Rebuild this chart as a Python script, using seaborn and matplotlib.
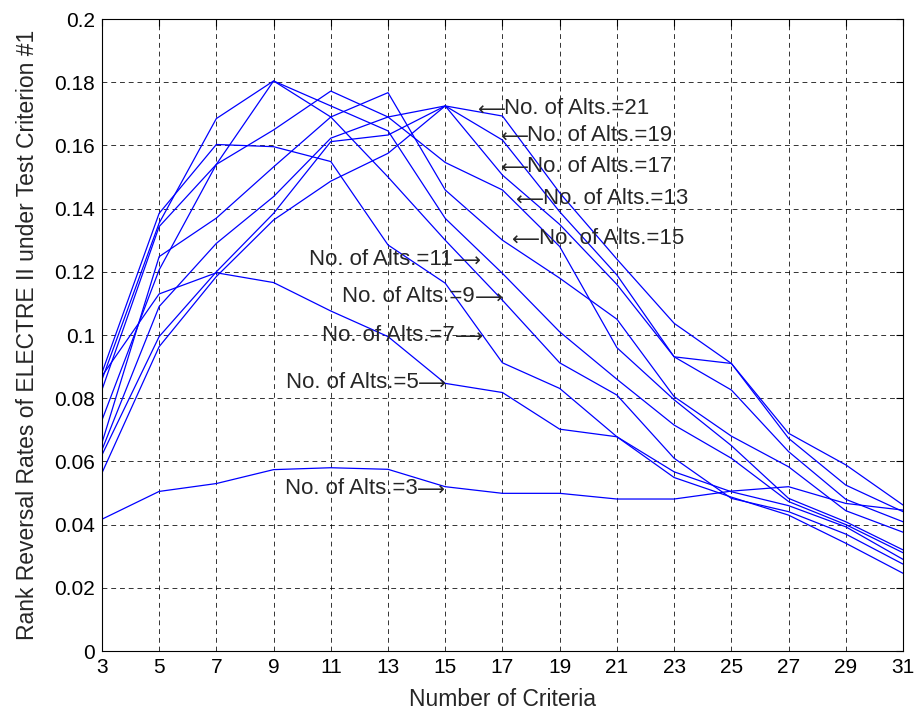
import numpy as np
import pandas as pd
import matplotlib
matplotlib.use("Agg")
import matplotlib.pyplot as plt
import seaborn as sns

# number of criteria (x axis)
criteria = [3, 5, 7, 9, 11, 13, 15, 17, 19, 21, 23, 25, 27, 29, 31]

# rank reversal rates, one list per number of alternatives
alts_3 = [0.0417, 0.0505, 0.0530, 0.0574, 0.0580, 0.0575, 0.0520, 0.0499, 0.0499, 0.0481, 0.0481, 0.0506, 0.0520, 0.0467, 0.0446]
alts_5 = [0.0870, 0.1130, 0.1197, 0.1166, 0.1076, 0.0995, 0.0847, 0.0818, 0.0702, 0.0678, 0.0549, 0.0487, 0.0430, 0.0341, 0.0246]
alts_7 = [0.0880, 0.1385, 0.1603, 0.1596, 0.1549, 0.1285, 0.1164, 0.0912, 0.0831, 0.0678, 0.0567, 0.0504, 0.0460, 0.0393, 0.0290]
alts_9 = [0.0858, 0.1354, 0.1685, 0.1804, 0.1690, 0.1500, 0.1300, 0.1110, 0.0912, 0.0810, 0.0610, 0.0483, 0.0441, 0.0370, 0.0275]
alts_11 = [0.0826, 0.1343, 0.1540, 0.1804, 0.1725, 0.1646, 0.1369, 0.1195, 0.1010, 0.0860, 0.0715, 0.0610, 0.0473, 0.0400, 0.0311]
alts_13 = [0.0730, 0.1206, 0.1540, 0.1649, 0.1772, 0.1690, 0.1546, 0.1459, 0.1280, 0.0960, 0.0795, 0.0650, 0.0483, 0.0409, 0.0320]
alts_15 = [0.0658, 0.1248, 0.1370, 0.1532, 0.1690, 0.1767, 0.1459, 0.1300, 0.1180, 0.1050, 0.0805, 0.0680, 0.0583, 0.0444, 0.0376]
alts_17 = [0.0636, 0.1090, 0.1290, 0.1438, 0.1623, 0.1690, 0.1725, 0.1506, 0.1350, 0.1160, 0.0931, 0.0826, 0.0631, 0.0480, 0.0409]
alts_19 = [0.0620, 0.0995, 0.1200, 0.1385, 0.1612, 0.1633, 0.1725, 0.1617, 0.1390, 0.1190, 0.0931, 0.0910, 0.0673, 0.0525, 0.0441]
alts_21 = [0.0563, 0.0963, 0.1185, 0.1364, 0.1487, 0.1575, 0.1725, 0.1693, 0.1450, 0.1240, 0.1037, 0.0910, 0.0689, 0.0589, 0.0462]

series = {3: alts_3, 5: alts_5, 7: alts_7, 9: alts_9, 11: alts_11,
          13: alts_13, 15: alts_15, 17: alts_17, 19: alts_19, 21: alts_21}

# label text, anchor point, and which side the arrow sits on
label_alts = [21, 19, 17, 13, 15, 11, 9, 7, 5, 3]
label_x = [16.1, 16.9, 16.9, 17.45, 17.3, 16.25, 17.0, 16.32, 15.03, 15.0]
label_y = [0.1712, 0.1627, 0.1528, 0.1427, 0.1300, 0.1234, 0.1117, 0.0994, 0.0845, 0.0510]
label_left_arrow = [True, True, True, True, True, False, False, False, False, False]

rows = []
for n, vals in series.items():
    for c, v in zip(criteria, vals):
        rows.append({"criteria": c, "rate": v, "alts": n})
df = pd.DataFrame(rows)

sns.set_style("white")
plt.rcParams['font.family'] = ['Liberation Sans', 'DejaVu Sans']

fig = plt.figure(figsize=(9.18, 7.18), dpi=100)
ax = fig.add_axes([0.111, 0.0933, 0.8727, 0.8802])

sns.lineplot(data=df, x="criteria", y="rate", hue="alts",
             palette=["#0000ff"] * len(series), legend=False,
             linewidth=0.9, ax=ax, estimator=None, sort=False)

arrow_font = ['DejaVu Sans']
for n, x, y, left in zip(label_alts, label_x, label_y, label_left_arrow):
    txt = "No. of Alts.=%d" % n
    if left:
        ax.annotate("\u27f5", (x, y), ha="left", va="center", fontsize=14,
                    family=arrow_font)
        ax.annotate(txt, (x, y), xytext=(20, 1), textcoords="offset points",
                    ha="left", va="center", fontsize=16)
    else:
        ax.annotate("\u27f6", (x, y), ha="right", va="center", fontsize=14,
                    family=arrow_font)
        ax.annotate(txt, (x, y), xytext=(-20, 1), textcoords="offset points",
                    ha="right", va="center", fontsize=16)

ax.set_xlim(3, 31)
ax.set_ylim(0, 0.2)
ax.set_xticks(criteria)
ax.set_yticks(np.arange(0, 0.201, 0.02))
ax.set_yticklabels(["%g" % round(v, 2) for v in np.arange(0, 0.201, 0.02)])
ax.tick_params(direction="in", top=True, right=True, length=5, width=0.8,
               labelsize=15, colors="black", pad=5)
ax.grid(True, color="black", linestyle=(0, (5, 4)), linewidth=0.7, alpha=0.8)
for s in ax.spines.values():
    s.set_color("black")
    s.set_linewidth(0.8)

ax.set_xlabel("Number of Criteria", fontsize=16.5, labelpad=8)
ax.set_ylabel("Rank Reversal Rates of ELECTRE II under Test Criterion #1", fontsize=16.5, labelpad=11)

fig.savefig("out.png", dpi=100)
